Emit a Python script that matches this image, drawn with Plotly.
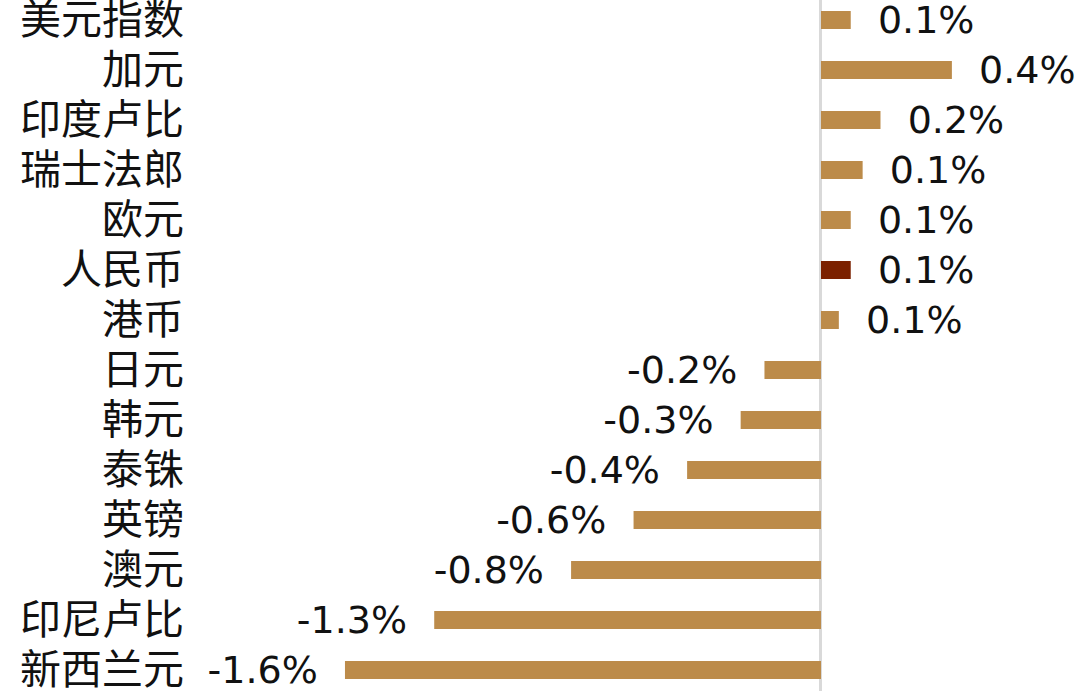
import plotly.graph_objects as go

categories = ["美元指数", "加元", "印度卢比", "瑞士法郎", "欧元", "人民币", "港币",
              "日元", "韩元", "泰铢", "英镑", "澳元", "印尼卢比", "新西兰元"]
values = [0.10, 0.44, 0.20, 0.14, 0.10, 0.10, 0.06,
          -0.19, -0.27, -0.45, -0.63, -0.84, -1.30, -1.60]
labels = ["0.1%", "0.4%", "0.2%", "0.1%", "0.1%", "0.1%", "0.1%",
          "-0.2%", "-0.3%", "-0.4%", "-0.6%", "-0.8%", "-1.3%", "-1.6%"]

BAR = "#BC8B4A"
HIGHLIGHT = "#7B2100"
colors = [HIGHLIGHT if c == "人民币" else BAR for c in categories]
NB = "\u00a0\u00a0"
texts = [(NB + t) if v >= 0 else (t + NB) for v, t in zip(values, labels)]

fig = go.Figure(go.Bar(
    y=categories, x=values, orientation="h",
    marker=dict(color=colors, line=dict(width=0)),
    text=texts, textposition="outside", constraintext="none", cliponaxis=False,
    textfont=dict(family="DejaVu Sans, Liberation Sans, sans-serif", size=38, color="#111111"),
    hoverinfo="skip",
))

fig.update_layout(
    width=1080, height=691,
    margin=dict(l=198, r=0, t=0, b=0, autoexpand=False),
    paper_bgcolor="white", plot_bgcolor="white",
    bargap=0.64, showlegend=False,
    xaxis=dict(range=[-2.094, 0.8706], showticklabels=False, showgrid=False, automargin=False,
               zeroline=True, zerolinecolor="#D9D9D9", zerolinewidth=3),
    yaxis=dict(range=[13.42, -0.40], showgrid=False, zeroline=False, showline=False,
               ticks="", ticklabelstandoff=13, automargin=False,
               tickfont=dict(family="Noto Sans CJK SC, sans-serif", size=41, color="#111111")),
)

fig.write_html("out.html", config={"displayModeBar": False},
               post_script="document.body.style.margin='0';document.body.style.overflow='hidden';")
